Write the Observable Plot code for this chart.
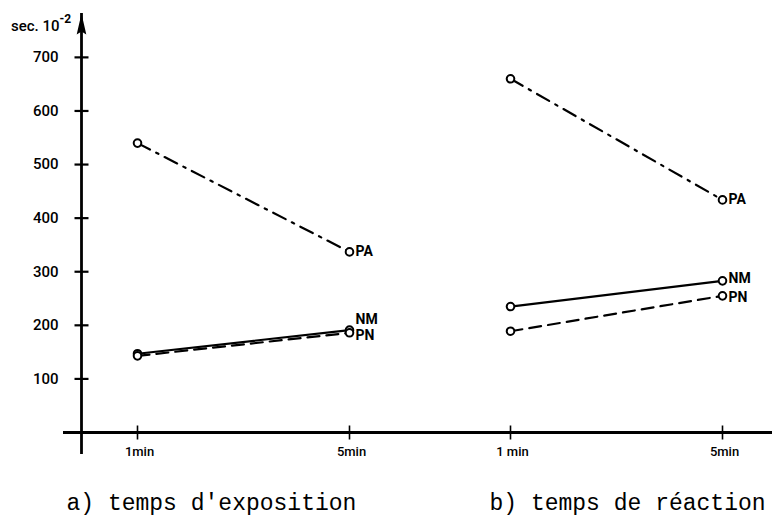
<!DOCTYPE html>
<html>
<head>
<meta charset="utf-8">
<script src="https://cdn.jsdelivr.net/npm/d3@7"></script>
<script src="https://cdn.jsdelivr.net/npm/@observablehq/plot@0.6"></script>
<style>
  body { margin: 0; background: #fff; }
  #chart svg { display: block; }
</style>
</head>
<body>
<div id="chart"></div>
<script>
// Two panels: exposure time (a) and reaction time (b)
const panels = ["a", "b"];
const panelTitles = ["a) temps d'exposition", "b) temps de réaction"];
const times = ["1min", "5min"];
const tickLabelsA = ["1min", "5min"];
const tickLabelsB = ["1 min", "5min"];
const seriesNames = ["PA", "NM", "PN"];

// Mean times in 1/100 s, ordered a·1min, a·5min, b·1min, b·5min
const valuesPA = [540, 337, 660, 434];
const valuesNM = [147, 191, 235, 283];
const valuesPN = [143, 186, 189, 255];

const yTicks = [100, 200, 300, 400, 500, 600, 700];
const yMax = 780;
const yUnit = "sec. 10";
const yUnitExponent = "-2";

const seriesValues = {PA: valuesPA, NM: valuesNM, PN: valuesPN};
const rows = [];
for (const s of seriesNames) {
  panels.forEach((p, i) => times.forEach((t, j) => {
    rows.push({series: s, panel: p, time: t, value: seriesValues[s][i * 2 + j]});
  }));
}

const xTickRows = [];
panels.forEach((p, i) => times.forEach((t, j) => {
  xTickRows.push({panel: p, time: t, label: (i === 0 ? tickLabelsA : tickLabelsB)[j]});
}));
const yTickRows = yTicks.map(v => ({panel: "a", value: v}));
const titleRows = panels.map((p, i) => ({panel: p, title: panelTitles[i]}));

const sans = "Roboto, 'Liberation Sans', sans-serif";
const mono = "'Liberation Mono', 'DejaVu Sans Mono', monospace";

// Custom symbols: crossing tick marks and the arrowhead of the y axis
const vTick = {draw(ctx) { ctx.moveTo(0, -7); ctx.lineTo(0, 7); }};
const hTick = {draw(ctx) { ctx.moveTo(-7, 0); ctx.lineTo(7, 0); }};
const arrowHead = {draw(ctx) {
  ctx.moveTo(0, -1); ctx.lineTo(4.8, 20); ctx.lineTo(0, 17); ctx.lineTo(-4.8, 20); ctx.closePath();
}};

const dashes = {PA: "14,7,2.5,7", NM: null, PN: "12,7"};
// vertical nudges of the end labels, per panel, so NM and PN do not collide
const labelDy = {a: {PA: 0, NM: -11, PN: 3}, b: {PA: 0, NM: -2, PN: 2}};

const lineMarks = seriesNames.map(s => Plot.line(rows.filter(d => d.series === s), {
  fx: "panel", x: "time", y: "value",
  stroke: "black", strokeWidth: 2.2,
  strokeDasharray: dashes[s] ?? undefined
}));

const labelMarks = panels.flatMap(p => seriesNames.map(s =>
  Plot.text(rows.filter(d => d.panel === p && d.series === s && d.time === "5min"), {
    fx: "panel", x: "time", y: "value", text: "series",
    textAnchor: "start", dx: 6, dy: labelDy[p][s],
    fontSize: 14, fontWeight: "bold", fontFamily: sans, fill: "black"
  })));

const chart = Plot.plot({
  width: 772,
  height: 526,
  marginLeft: 81,
  marginRight: 0,
  marginTop: 14,
  marginBottom: 94,
  style: {background: "white", color: "black"},
  fx: {domain: panels, paddingInner: 0.1475, paddingOuter: 0, axis: null},
  x: {type: "point", domain: times, padding: 0.2358, insetLeft: 6, axis: null},
  y: {domain: [0, yMax], axis: null},
  marks: [
    // x axis line, continuous across both panels
    Plot.ruleY([0], {stroke: "black", strokeWidth: 2.8, insetLeft: -18, insetRight: -56}),
    // y axis line with arrow
    Plot.frame({anchor: "left", facetAnchor: "left", stroke: "black", strokeWidth: 2.8, insetBottom: -20}),
    Plot.dot([{panel: "a"}], {fx: "panel", x: null, frameAnchor: "top-left", symbol: arrowHead, fill: "black", stroke: "none"}),
    // y ticks and labels
    Plot.dot(yTickRows, {fx: "panel", y: "value", frameAnchor: "left", symbol: hTick, stroke: "black", strokeWidth: 2.2}),
    Plot.text(yTickRows, {fx: "panel", y: "value", text: d => String(d.value), frameAnchor: "left",
      textAnchor: "end", dx: -23, fontSize: 15, fontFamily: sans, fontWeight: 500}),
    // unit label with exponent
    Plot.text([{panel: "a"}], {fx: "panel", x: null, frameAnchor: "top-left", text: () => yUnit,
      textAnchor: "end", dx: -22, dy: 6, fontSize: 15, fontFamily: sans, fontWeight: 500}),
    Plot.text([{panel: "a"}], {fx: "panel", x: null, frameAnchor: "top-left", text: () => yUnitExponent,
      textAnchor: "start", dx: -22, dy: 0, fontSize: 12, fontFamily: sans, fontWeight: "bold"}),
    // x ticks and labels
    Plot.dot(xTickRows, {fx: "panel", x: "time", y: () => 0, symbol: vTick, stroke: "black", strokeWidth: 1.6}),
    Plot.text(xTickRows, {fx: "panel", x: "time", text: "label", frameAnchor: "bottom", dy: 23, dx: 2,
      fontSize: 13, fontFamily: sans, fontWeight: 500}),
    // panel captions
    Plot.text(titleRows.filter(d => d.panel === "a"), {fx: "panel", x: null, text: "title", frameAnchor: "bottom-left",
      textAnchor: "start", dx: -15, dy: 77, fontSize: 23, fontFamily: mono}),
    Plot.text(titleRows.filter(d => d.panel === "b"), {fx: "panel", x: null, text: "title", frameAnchor: "bottom-left",
      textAnchor: "start", dx: 35, dy: 77, fontSize: 23, fontFamily: mono}),
    // data
    ...lineMarks,
    Plot.dot(rows, {fx: "panel", x: "time", y: "value", r: 3.8, stroke: "black", fill: "white", strokeWidth: 2}),
    ...labelMarks
  ]
});

document.getElementById("chart").append(chart);
</script>
</body>
</html>
